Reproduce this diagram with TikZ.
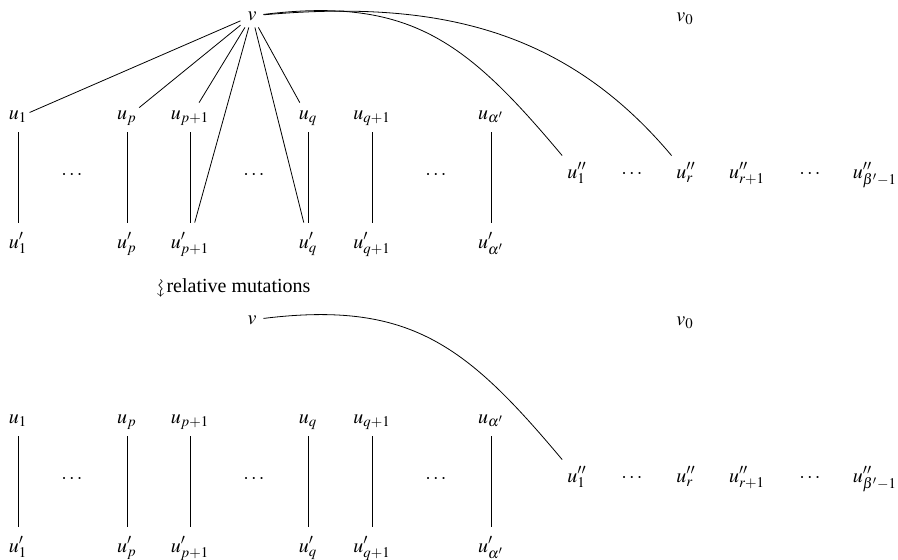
\documentclass[tikz,border=0pt]{standalone}
\usepackage{amssymb}
\usepackage{mathptmx}
\usepackage[no-math]{fontspec}
\setmainfont{Liberation Serif}
\tikzset{
  apex/.style={anchor=base},
  urow/.style={anchor=base,inner sep=1pt,text height=7pt,text depth=5.5pt},
  wrow/.style={anchor=base,inner sep=1pt,text height=11.5pt,text depth=3pt},
  xrow/.style={anchor=base},
  arc/.style={out=7,in=130,looseness=1.15}
}

\begin{document}
\begin{tikzpicture}[x=0.5pt,y=0.5pt]
  \useasboundingbox (0,0) rectangle (898,-559);
  \foreach \s/\off in {T/0,B/304}{
    \node[apex] (v\s) at (252,-20-\off) {$v$};
    \node[apex] (vo\s) at (685,-21-\off) {$v_0$};
    \foreach \x/\n/\i in {18/1/1,127/p/p,190/pp/p+1,308/q/q,372/qq/q+1,491/a/\alpha'}{
      \node[urow] (u\n\s) at (\x,-119-\off) {$u_{\i}$};
      \node[wrow] (w\n\s) at (\x,-248-\off) {$u'_{\i}$};
      \draw (u\n\s) -- (w\n\s);
    }
    \foreach \x/\n in {72/a,254/b,436/c}
      \node[apex] (d\n\s) at (\x,-179-\off) {$\cdots$};
    \foreach \x/\n/\lab in {577/1/{u''_1},632/d/{\cdots},686/r/{u''_r},747/rr/{u''_{r+1}},810/e/{\cdots},875/b/{u''_{\beta'-1}}}
      \node[xrow] (x\n\s) at (\x,-178-\off) {$\lab$};
    \draw (v\s) to[arc] (x1\s);
  }
  \node[apex] (rel) at (233,-292) {\rotatebox[origin=c]{-90}{$\rightsquigarrow$}\,relative mutations};
  \draw (vT) -- (u1T);
  \draw (vT) -- (upT);
  \draw (vT) -- (uppT);
  \draw (vT) -- (wppT);
  \draw (vT) -- (wqT);
  \draw (vT) -- (uqT);
  \draw (vT) to[out=5,in=130] (xrT);
\end{tikzpicture}
\end{document}
